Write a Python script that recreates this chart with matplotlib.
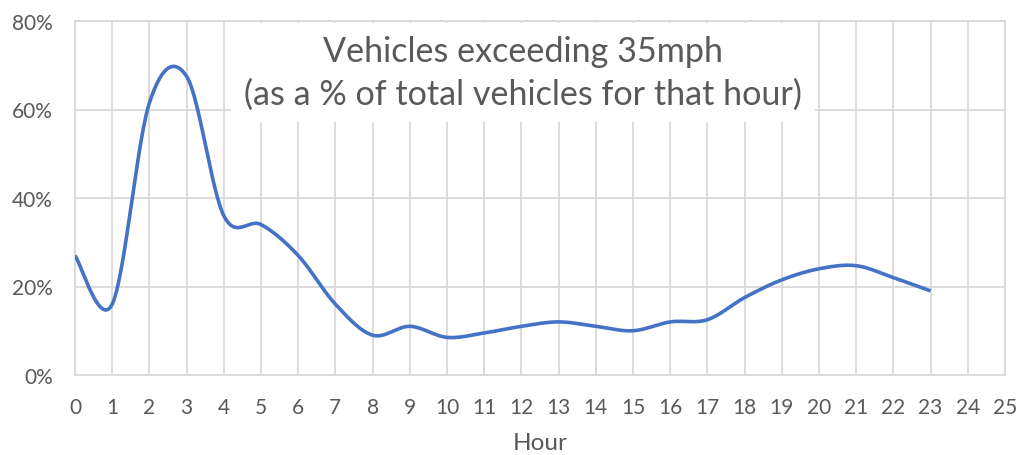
import numpy as np
import matplotlib.pyplot as plt
from matplotlib.patches import Rectangle

hours = list(range(24))
pct = [27, 16, 61.5, 67.5, 36, 34, 27, 16, 9, 11, 8.5, 9.5, 11, 12, 11, 10, 12, 12.5, 17.5, 21.5, 24, 24.7, 22, 19]
title_lines = ["Vehicles exceeding 35mph", "(as a % of total vehicles for that hour)"]

grey = "#595959"
grid = "#d9d9d9"
blue = "#4472c4"
font = "Lato"


def smooth(x, y, n=30):
    # excel-style smoothed line: bezier segments, control points from neighbours / 6
    x = np.asarray(x, float)
    y = np.asarray(y, float)
    xp = np.concatenate([[x[0]], x, [x[-1]]])
    yp = np.concatenate([[y[0]], y, [y[-1]]])
    t = np.linspace(0, 1, n)[:, None]
    out = []
    for i in range(len(x) - 1):
        p0 = np.array([x[i], y[i]])
        p3 = np.array([x[i + 1], y[i + 1]])
        p1 = p0 + (np.array([xp[i + 2], yp[i + 2]]) - np.array([xp[i], yp[i]])) / 6
        p2 = p3 - (np.array([xp[i + 3], yp[i + 3]]) - np.array([xp[i + 1], yp[i + 1]])) / 6
        seg = (1 - t) ** 3 * p0 + 3 * (1 - t) ** 2 * t * p1 + 3 * (1 - t) * t ** 2 * p2 + t ** 3 * p3
        out.append(seg if i == 0 else seg[1:])
    pts = np.vstack(out)
    return pts[:, 0], pts[:, 1]


fig = plt.figure(figsize=(10.2, 4.56), dpi=100)
ax = fig.add_axes([75 / 1020, 80 / 456, 930 / 1020, 354 / 456])

sx, sy = smooth(hours, pct)
ax.plot(sx, sy, color=blue, lw=2.6, solid_capstyle="butt", zorder=3)

ax.set_xlim(0, 25)
ax.set_ylim(0, 80)
ax.set_xticks(range(26))
ax.set_yticks(range(0, 81, 20))
ax.set_yticklabels([f"{v}%" for v in range(0, 81, 20)])
ax.grid(True, color=grid, lw=1.3, zorder=0)
ax.set_axisbelow(True)
for s in ax.spines.values():
    s.set_color(grid)
    s.set_linewidth(1.3)
ax.tick_params(length=0, labelsize=15, labelcolor=grey)
ax.tick_params(axis="x", pad=16)
ax.tick_params(axis="y", pad=16)
for lab in ax.get_xticklabels() + ax.get_yticklabels():
    lab.set_fontfamily(font)
ax.set_xlabel("Hour", fontsize=17.5, color=grey, family=font, labelpad=11)

# white box behind the title covering the gridlines
ax.add_patch(Rectangle((0.1677, 0.7147), 0.628, 0.279, transform=ax.transAxes,
                       facecolor="white", edgecolor="none", zorder=2))
ax.text(0.4817, 0.8545, "\n".join(title_lines), transform=ax.transAxes, ha="center",
        va="center", fontsize=24.6, color=grey, family=font, linespacing=1.42, zorder=4)

fig.savefig("out.png", dpi=100)
